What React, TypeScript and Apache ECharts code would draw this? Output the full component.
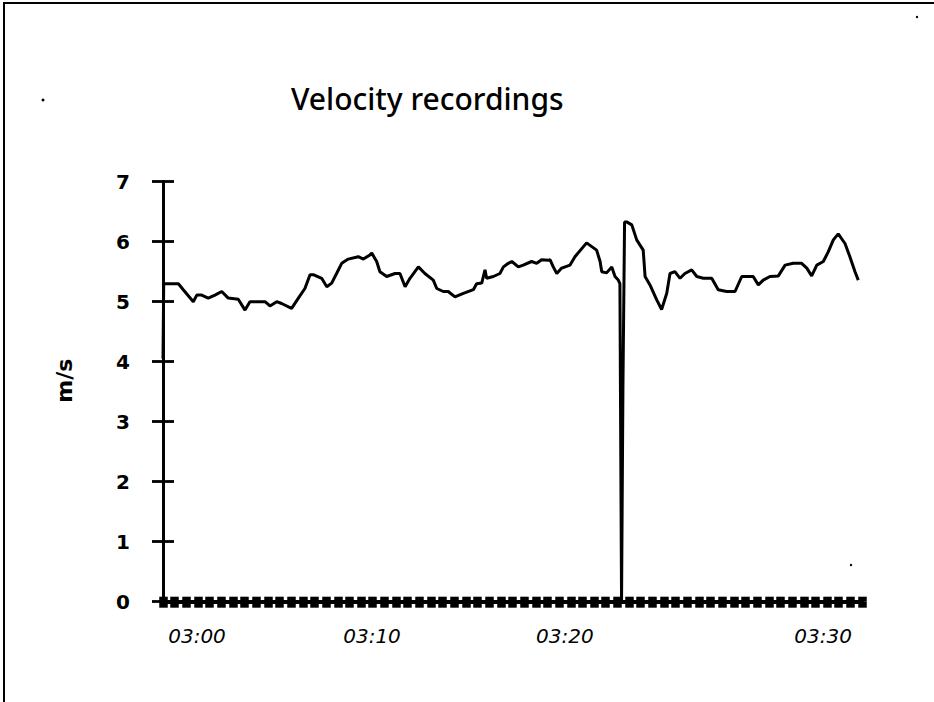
import React, { useEffect, useRef } from "react";
import * as echarts from "echarts";

// minutes after 03:00
const times = [
  0, 0.03, 0.66, 0.87, 1.3, 1.45, 1.66, 1.94, 2.23, 2.52, 2.8, 3.23, 3.52, 3.73, 4.38, 4.59, 4.88, 5.09,
  5.52, 5.81, 6.09, 6.31, 6.45, 6.81, 7.03, 7.24, 7.45, 7.67, 7.95, 8.38, 8.6, 8.88, 8.96, 9.17, 9.31,
  9.6, 9.96, 10.17, 10.39, 10.6, 10.96, 11.24, 11.6, 11.75, 12.03, 12.24, 12.53, 12.89, 13.32, 13.46,
  13.68, 13.82, 13.89, 14.18, 14.46, 14.61, 14.82, 14.97, 15.25, 15.46, 15.82, 16.04, 16.25, 16.54,
  16.61, 16.75, 16.9, 17.11, 17.47, 17.68, 18.18, 18.61, 18.76, 18.83, 19.04, 19.26, 19.4, 19.54,
  19.61, 19.68, 19.74, 19.81, 19.9, 20.12, 20.33, 20.61, 20.69, 20.9, 21.19, 21.4, 21.62, 21.76,
  21.97, 22.19, 22.4, 22.69, 22.91, 23.19, 23.55, 23.83, 24.19, 24.55, 24.84, 25.33, 25.55, 25.76,
  26.05, 26.41, 26.7, 27.05, 27.41, 27.63, 27.84, 28.06, 28.34, 28.55, 28.77, 28.98, 29.27, 29.48,
  29.7, 29.84,
];

// velocity, m/s
const speeds = [
  4.05, 5.3, 5.3, 5.2, 5.0, 5.11, 5.11, 5.06, 5.11, 5.17, 5.06, 5.04, 4.86, 5.0, 5.0, 4.93, 5.0, 4.97,
  4.89, 5.06, 5.22, 5.45, 5.45, 5.39, 5.25, 5.31, 5.47, 5.64, 5.71, 5.75, 5.71, 5.78, 5.81, 5.67, 5.5,
  5.42, 5.47, 5.47, 5.25, 5.39, 5.58, 5.47, 5.36, 5.22, 5.17, 5.17, 5.08, 5.14, 5.2, 5.3,
  5.31, 5.53, 5.39, 5.42, 5.47, 5.58, 5.64, 5.67, 5.58, 5.61, 5.67, 5.64, 5.7, 5.69,
  5.7, 5.58, 5.47, 5.56, 5.61, 5.75, 5.98, 5.86, 5.67, 5.5, 5.48, 5.58, 5.42, 5.36,
  5.3, 0, 3.6, 6.33, 6.33, 6.28, 6.03, 5.86, 5.42, 5.28, 5.03, 4.87, 5.14, 5.47,
  5.5, 5.39, 5.47, 5.53, 5.42, 5.39, 5.39, 5.2, 5.17, 5.17, 5.42, 5.42, 5.28, 5.36,
  5.42, 5.43, 5.61, 5.64, 5.64, 5.56, 5.43, 5.61, 5.67, 5.83, 6.03, 6.13, 5.97, 5.75,
  5.5, 5.36,
];

const xLabelValues = [1.46, 8.97, 17.25, 28.33];
const xLabelTexts = ["03:00", "03:10", "03:20", "03:30"];
const yTicks = [0, 1, 2, 3, 4, 5, 6, 7];

export default function App() {
  const ref = useRef<HTMLDivElement>(null);
  useEffect(() => {
    if (!ref.current) return;
    const chart = echarts.init(ref.current, null, { renderer: "svg" });
    const data = times.map((t, i) => [t, speeds[i]]);
    const axisColor = "#000";
    const labelFor = (v: number) => {
      const idx = xLabelValues.findIndex((x) => Math.abs(x - v) < 1e-6);
      return idx >= 0 ? xLabelTexts[idx] : "";
    };
    chart.setOption({
      animation: false,
      backgroundColor: "#fff",
      title: {
        text: "Velocity recordings",
        left: 286,
        top: 78,
        textStyle: { fontFamily: "Noto Sans", fontSize: 30, fontWeight: 500, color: "#000" },
      },
      grid: { left: 163, right: 72, top: 181.7, bottom: 100.3, containLabel: false, outerBoundsMode: "none" },
      xAxis: [
        {
          type: "value",
          min: 0,
          max: 30,
          interval: 0.5,
          position: "bottom",
          axisLine: { show: true, lineStyle: { color: axisColor, width: 4 } },
          axisTick: { show: true, inside: false, length: 6, lineStyle: { color: axisColor, width: 8.5 } },
          axisLabel: {
            show: true,
            customValues: xLabelValues,
            formatter: (v: number) => labelFor(v),
            margin: 24,
            fontFamily: "DejaVu Sans",
            fontStyle: "italic",
            fontSize: 20,
            color: "#000",
          },
          splitLine: { show: false },
        },
        {
          type: "value",
          min: 0,
          max: 30,
          interval: 0.5,
          position: "bottom",
          axisLine: { show: true, lineStyle: { color: axisColor, width: 4 } },
          axisTick: { show: true, inside: true, length: 5, lineStyle: { color: axisColor, width: 8.5 } },
          axisLabel: { show: false },
          splitLine: { show: false },
        },
      ],
      yAxis: [
        {
          type: "value",
          min: 0,
          max: 7,
          interval: 1,
          position: "left",
          axisLine: { show: true, lineStyle: { color: axisColor, width: 2.8 } },
          axisTick: { show: true, inside: false, length: 11, lineStyle: { color: axisColor, width: 2.8 } },
          axisLabel: {
            margin: 33,
            fontFamily: "DejaVu Sans",
            fontWeight: "bold",
            fontSize: 20,
            color: "#000",
            formatter: (v: number) => (yTicks.includes(v) ? String(v) : ""),
          },
          splitLine: { show: false },
          name: "m/s",
          nameLocation: "middle",
          nameGap: 88,
          nameRotate: 90,
          nameTextStyle: {
            fontFamily: "DejaVu Sans",
            fontSize: 22,
            fontWeight: "bold",
            color: "#000",
            padding: [0, 0, 0, 22],
          },
        },
        {
          type: "value",
          min: 0,
          max: 7,
          interval: 1,
          position: "left",
          axisLine: { show: true, lineStyle: { color: axisColor, width: 2.8 } },
          axisTick: { show: true, inside: true, length: 11, lineStyle: { color: axisColor, width: 2.8 } },
          axisLabel: { show: false },
          splitLine: { show: false },
        },
      ],
      series: [
        {
          type: "line",
          data,
          xAxisIndex: 0,
          yAxisIndex: 0,
          symbol: "none",
          lineStyle: { color: "#000", width: 3 },
          z: 5,
        },
      ],
      graphic: [
        { type: "line", shape: { x1: 3, y1: 3, x2: 934, y2: 3 }, style: { stroke: "#000", lineWidth: 2 } },
        { type: "line", shape: { x1: 4, y1: 3, x2: 4, y2: 702 }, style: { stroke: "#000", lineWidth: 2 } },
        { type: "circle", shape: { cx: 43, cy: 100, r: 1.5 }, style: { fill: "#000" } },
        { type: "circle", shape: { cx: 917, cy: 17, r: 1.2 }, style: { fill: "#000" } },
        { type: "circle", shape: { cx: 851, cy: 565, r: 1.2 }, style: { fill: "#000" } },
      ],
    });
    return () => chart.dispose();
  }, []);
  return (
    <div
      ref={ref}
      style={{ position: "fixed", left: 0, top: 0, width: "934px", height: "702px", background: "#fff" }}
    />
  );
}
